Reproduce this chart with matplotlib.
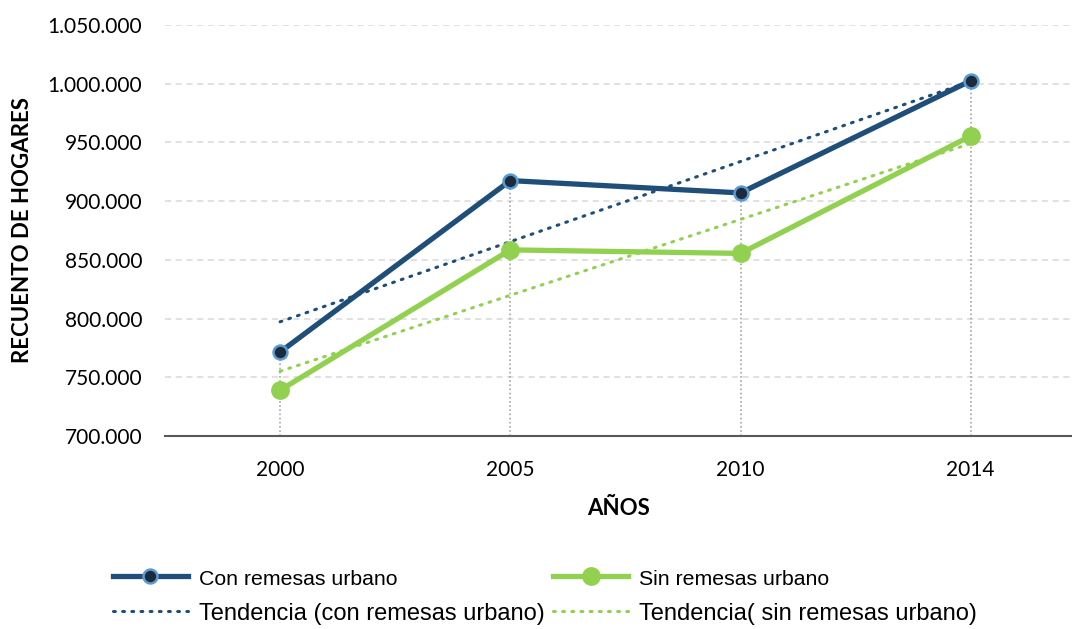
import numpy as np
import matplotlib.pyplot as plt
from matplotlib.ticker import FuncFormatter

# Datos
anios = ['2000', '2005', '2010', '2014']
con_remesas = [771500, 917500, 907000, 1002500]
sin_remesas = [739000, 858500, 855500, 955500]

x = np.arange(len(anios))
xt = x + 1  # Excel usa 1..n para la tendencia

fig = plt.figure(figsize=(10.72, 6.29), dpi=100)
ax = fig.add_axes([0.1539, 0.3068, 0.8461, 0.6535])

azul = '#1f4e79'
verde = '#92d050'

# Lineas de caida
tope = np.maximum(con_remesas, sin_remesas)
for xi, t in zip(x, tope):
    ax.plot([xi, xi], [700000, t], color='#a6a6a6', lw=1.2, ls=(0, (1, 1.5)), zorder=1)

l1, = ax.plot(x, con_remesas, color=azul, lw=3.8, marker='o', ms=10,
              mfc='#1c2a3c', mec='#5b9bd5', mew=1.8, zorder=4, label='Con remesas urbano')
l2, = ax.plot(x, sin_remesas, color=verde, lw=3.8, marker='o', ms=12.5,
              mfc=verde, mec=verde, zorder=4, label='Sin remesas urbano')

# Tendencias lineales
m1, b1 = np.polyfit(xt, con_remesas, 1)
m2, b2 = np.polyfit(xt, sin_remesas, 1)
t1, = ax.plot(x, m1 * xt + b1, color=azul, lw=2.2, ls=(0, (0.6, 2.4)),
              dash_capstyle='round', zorder=3, label='Tendencia (con remesas urbano)')
t2, = ax.plot(x, m2 * xt + b2, color=verde, lw=2.2, ls=(0, (0.6, 2.4)),
              dash_capstyle='round', zorder=3, label='Tendencia( sin remesas urbano)')

ax.set_ylim(700000, 1050000)
ax.set_xlim(-0.5, 3.44)
ax.set_yticks(np.arange(700000, 1050001, 50000))
ax.yaxis.set_major_formatter(FuncFormatter(lambda v, p: f'{int(v):,}'.replace(',', '.')))
ax.set_xticks(x)
ax.set_xticklabels(anios)
ax.grid(axis='y', color='#d9d9d9', ls=(0, (4, 3)), lw=1.1)
ax.set_axisbelow(True)
for s in ['top', 'right', 'left']:
    ax.spines[s].set_visible(False)
ax.spines['bottom'].set_color('#595959')
ax.spines['bottom'].set_linewidth(1.5)
ax.tick_params(axis='both', length=0, labelsize=15, colors='black')
ax.tick_params(axis='x', pad=17)
ax.tick_params(axis='y', pad=16.5)
for lab in ax.get_xticklabels() + ax.get_yticklabels():
    lab.set_family('Lato')

ax.set_xlabel('AÑOS', fontsize=16, fontweight='bold', family='Lato', labelpad=13)
ax.set_ylabel('RECUENTO DE HOGARES', fontsize=16, fontweight='bold', family='Lato')
ax.yaxis.set_label_coords(-0.145, 0.5)

leg = fig.legend(handles=[l1, t1, l2, t2], ncol=2, loc='upper left',
                 bbox_to_anchor=(0.105, 0.097), frameon=False,
                 prop={'family': 'Liberation Sans', 'size': 17},
                 handlelength=3.2, columnspacing=0.35, labelspacing=0.6, handletextpad=0.45,
                 borderaxespad=0, borderpad=0)
textos = leg.get_texts()
textos[0].set_fontsize(15.3)
textos[2].set_fontsize(15.3)

fig.savefig('out.png', dpi=100)
